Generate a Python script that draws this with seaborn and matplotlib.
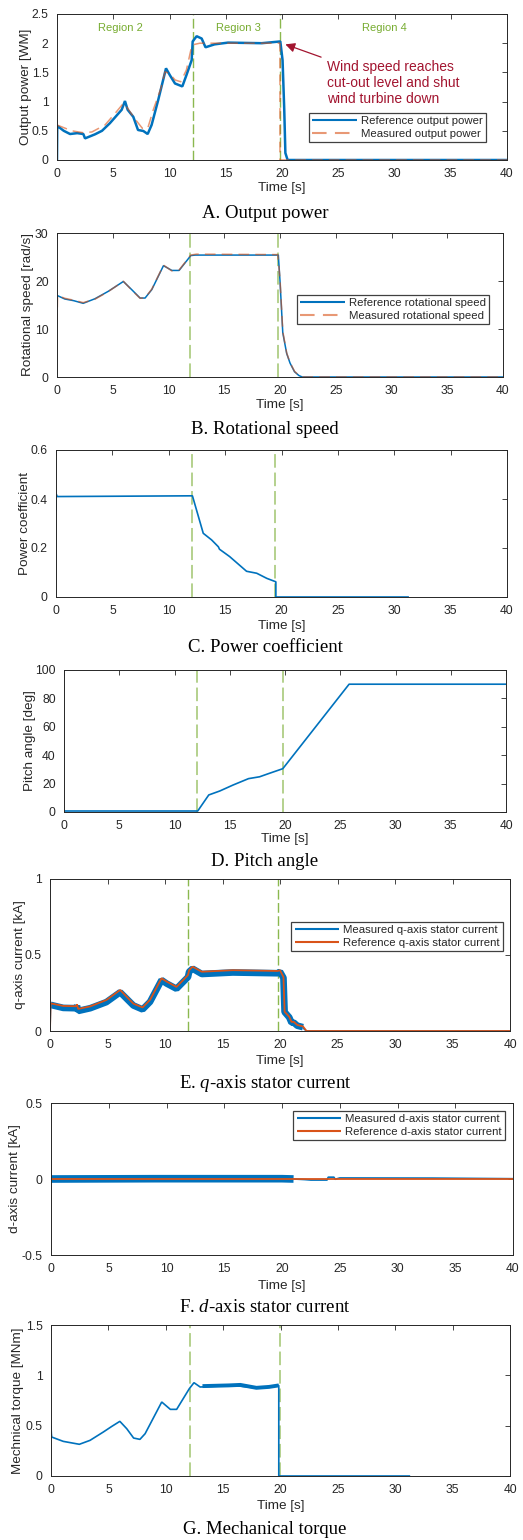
import matplotlib
matplotlib.use("Agg")
import matplotlib.pyplot as plt
from matplotlib.ticker import FuncFormatter
import seaborn as sns
import pandas as pd
import numpy as np

# ---------------- data ----------------
time_ticks = [0, 5, 10, 15, 20, 25, 30, 35, 40]

# A. Output power [MW]
power_ref_t = [0, 0.02, 0.12, 0.6, 1.16, 1.8, 2.34, 2.49, 3.38, 4.0, 4.7, 5.75, 6.04, 6.28,
               6.78, 7.2, 7.67, 8.06, 8.41, 9.0, 9.69, 10.04, 10.49, 11.14, 11.5, 11.97,
               12.06, 12.41, 12.86, 13.2, 14.0, 15.2, 18.2, 19.85, 20.05, 20.2, 20.3, 20.5, 40]
power_ref = [0.0, 0.58, 0.57, 0.5, 0.445, 0.46, 0.445, 0.37, 0.44, 0.5, 0.63, 0.86, 1.01, 0.86,
             0.74, 0.514, 0.497, 0.445, 0.6, 1.03, 1.57, 1.45, 1.31, 1.26, 1.45, 1.71,
             2.03, 2.12, 2.08, 1.93, 1.98, 2.01, 2.0, 2.03, 1.71, 0.86, 0.12, 0.0, 0.0]
power_meas_t = [0, 1.3, 2.34, 3.1, 4.27, 5.3, 5.9, 6.2, 6.9, 7.6, 8.06, 8.56, 9.24, 9.6,
                10.0, 10.5, 11.0, 11.5, 12.0, 12.7, 19.82, 19.82, 40]
power_meas = [0.6, 0.5, 0.467, 0.48, 0.6, 0.83, 0.97, 0.91, 0.71, 0.54, 0.54, 0.86, 1.23, 1.51,
              1.48, 1.37, 1.34, 1.54, 1.97, 2.0, 2.0, 0.0, 0.0]

# B. Rotational speed [rad/s]
speed_ref_t = [0, 0.7, 1.5, 2.35, 3.4, 4.6, 5.95, 6.7, 7.45, 7.9, 8.5, 9.55, 10.3, 10.95,
               12.0, 12.4, 19.85, 20.0, 20.25, 20.6, 20.9, 21.3, 21.7, 22.0, 40]
speed_ref = [17.0, 16.25, 15.9, 15.35, 16.3, 17.85, 19.9, 18.2, 16.45, 16.45, 18.2, 23.2, 22.2, 22.2,
             25.3, 25.4, 25.4, 20.0, 9.2, 4.9, 2.9, 1.1, 0.3, 0.0, 0.0]
speed_meas_t = [0, 0.05, 0.7, 1.5, 2.35, 3.4, 4.6, 5.95, 6.7, 7.45, 7.9, 8.5, 9.55, 10.3, 10.95,
                12.0, 12.5, 19.8, 20.0, 20.25, 20.6, 20.9, 21.3, 21.7, 22.0, 40]
speed_meas = [11.0, 17.0, 16.4, 16.0, 15.5, 16.2, 17.8, 19.95, 18.1, 16.4, 16.5, 18.3, 23.3, 22.1, 22.3,
              25.4, 25.6, 25.5, 20.5, 9.5, 5.0, 3.0, 1.2, 0.3, 0.0, 0.0]

# C. Power coefficient
cp_t = [0, 0.02, 0.1, 12.1, 13.06, 13.8, 14.4, 14.5, 15.4, 16.4, 16.9, 17.8, 18.7, 19.5, 19.5, 31.3]
cp = [0.35, 0.42, 0.41, 0.413, 0.26, 0.233, 0.205, 0.195, 0.165, 0.125, 0.105, 0.097, 0.076, 0.062, 0.0, 0.0]

# D. Pitch angle [deg]
pitch_t = [0, 12.1, 13.1, 14.1, 15.3, 16.7, 17.7, 18.5, 19.8, 25.8, 40]
pitch = [0.7, 0.7, 12.0, 14.8, 19.0, 23.5, 24.8, 27.0, 30.5, 90.0, 90.0]

# E. q-axis stator current [kA]
iq_t = [0, 0.05, 1.15, 2.25, 2.35, 2.45, 3.5, 4.9, 6.1, 7.25, 8.05, 8.7, 9.7, 10.15, 11.0,
        12.0, 12.1, 12.4, 13.2, 15.9, 19.8, 20.0, 20.3, 20.4, 20.8, 21.0, 21.2, 21.5, 22.0, 22.3, 40]
iq_ref = [0.0, 0.182, 0.165, 0.163, 0.175, 0.145, 0.162, 0.204, 0.27, 0.18, 0.155, 0.205, 0.347, 0.325, 0.29,
          0.368, 0.40, 0.423, 0.39, 0.40, 0.395, 0.40, 0.355, 0.127, 0.094, 0.06, 0.06, 0.04, 0.03, 0.0, 0.0]
iq_band_t = [0.05, 1.15, 2.25, 2.35, 2.45, 3.5, 4.9, 6.1, 7.25, 8.05, 8.7, 9.7, 10.15, 11.0,
             12.0, 12.1, 12.4, 13.2, 15.9, 19.8, 20.0, 20.3, 20.4, 20.8, 21.0, 21.2, 21.5, 22.0]
iq_band = [0.172, 0.152, 0.15, 0.165, 0.132, 0.15, 0.19, 0.255, 0.168, 0.142, 0.192, 0.335, 0.312, 0.278,
           0.355, 0.39, 0.41, 0.375, 0.385, 0.38, 0.39, 0.35, 0.125, 0.09, 0.055, 0.055, 0.035, 0.025]
iq_start_t = [0, 0.05]
iq_start = [0.0, 0.172]
iq_tail_t = [22.0, 22.3, 40]
iq_tail = [0.02, 0.0, 0.0]

# F. d-axis stator current [kA]
id_band_t = [0, 9.0, 20.0, 21.0]
id_band = [0.0, 0.002, 0.002, 0.0]
id_tail_t = [21.0, 22.0, 22.5, 23.9, 24.0, 24.5, 24.6, 25.0, 33.0, 40.0]
id_tail = [0.0, -0.004, -0.007, -0.007, 0.012, 0.012, -0.002, 0.007, 0.006, 0.002]
id_ref_t = [0, 40]
id_ref = [0.0, 0.0]

# G. Mechanical torque [MNm]
torque_t = [0, 0.03, 0.06, 1.07, 2.47, 3.4, 4.56, 5.3, 6.0, 6.6, 7.2, 7.75, 8.2, 9.65, 10.4,
            10.95, 12.05, 12.46, 13.0, 15.9, 17.9, 19.85, 19.85, 31.3]
torque = [0.5, 0.42, 0.387, 0.344, 0.315, 0.354, 0.437, 0.493, 0.543, 0.47, 0.377, 0.364, 0.42, 0.735, 0.662,
          0.662, 0.867, 0.927, 0.884, 0.9, 0.874, 0.9, 0.0, 0.0]
torque_noisy_t = [13.2, 15.5, 16.5, 17.9, 19.0, 19.85]
torque_noisy = [0.893, 0.9, 0.905, 0.876, 0.885, 0.9]

region_names = ["Region 2", "Region 3", "Region 4"]
region_x = [5.6, 16.1, 29.1]

# ---------------- style ----------------
sns.set_style("white")
plt.rcParams["font.family"] = ["Liberation Sans", "DejaVu Sans"]
plt.rcParams["mathtext.fontset"] = "custom"
plt.rcParams["mathtext.rm"] = "Liberation Serif"
plt.rcParams["mathtext.it"] = "Liberation Serif:italic"

BLUE = "#0072BD"
ORANGE = "#D95319"
GREEN = "#77AC30"
DARK = "#262626"

W, H = 523, 1540
fig = plt.figure(figsize=(W / 100, H / 100), dpi=100)


def make_axes(left, right, top, bottom):
    return fig.add_axes([left / W, 1 - bottom / H, (right - left) / W, (bottom - top) / H])


def style_axes(ax, box, ylim, yticks, ylabel, ylab_px, xlab_px):
    left, right, top, bottom = box
    ax.set_xlim(0, 40)
    ax.set_ylim(*ylim)
    ax.set_xticks(time_ticks)
    ax.set_yticks(yticks)
    fmt = FuncFormatter(lambda v, p: "%g" % v)
    ax.xaxis.set_major_formatter(fmt)
    ax.yaxis.set_major_formatter(fmt)
    ax.tick_params(direction="in", top=True, right=True, length=3.5, width=0.6,
                   color=DARK, labelcolor=DARK, labelsize=8.7, pad=6)
    for s in ax.spines.values():
        s.set_visible(True)
        s.set_color(DARK)
        s.set_linewidth(0.7)
    ax.set_xlabel("Time [s]", fontsize=9.7, color=DARK)
    ax.set_ylabel(ylabel, fontsize=9.7, color=DARK)
    ax.yaxis.set_label_coords((ylab_px + 6 - left) / (right - left), 0.5)
    ax.xaxis.set_label_coords(0.5, -(xlab_px - 7) / (bottom - top))


def vlines(ax, xs, lw=1.0, alpha=0.85):
    for x in xs:
        ax.axvline(x, color=GREEN, lw=lw, alpha=alpha, ls=(0, (7, 2.5)), zorder=1)


def line(ax, t, v, **kw):
    kw.setdefault("solid_capstyle", "butt")
    kw.setdefault("solid_joinstyle", "bevel")
    sns.lineplot(x=t, y=v, ax=ax, estimator=None, sort=False, **kw)


def legend(ax, anchor):
    leg = ax.legend(loc="upper right", bbox_to_anchor=anchor, fontsize=8.2, fancybox=False,
                    framealpha=1, edgecolor="#404040", borderpad=0.3, labelspacing=0.2,
                    handlelength=3.9, handletextpad=0.35, borderaxespad=0)
    leg.get_frame().set_linewidth(0.9)
    for h in leg.legend_handles:
        h.set_linewidth(1.5)
    for txt in leg.get_texts():
        txt.set_color(DARK)


def caption(y_px, text):
    fig.text(265 / W, 1 - y_px / H, text, ha="center", va="center",
             fontsize=13.5, family="Liberation Serif", color="black")


# ---- A ----
box = (57, 507, 14, 160)
ax = make_axes(*box)
vlines(ax, [12.05, 19.85])
line(ax, power_ref_t, power_ref, color=BLUE, linewidth=1.8, label="Reference output power")
line(ax, power_meas_t, power_meas, color=ORANGE, alpha=0.6, linewidth=1.1,
     linestyle=(0, (7, 4)), label="Measured output power")
for name, x in zip(region_names, region_x):
    ax.text(x, 2.26, name, color=GREEN, fontsize=8, ha="center", va="center")
ax.annotate("Wind speed reaches\ncut-out level and shut\nwind turbine down",
            xy=(20.3, 1.98), xytext=(24.0, 1.32), color="#A2142F", fontsize=10,
            ha="left", va="center", linespacing=1.15,
            arrowprops=dict(arrowstyle="-|>", color="#A2142F", lw=0.9, mutation_scale=14,
                            shrinkA=2, shrinkB=0))
style_axes(ax, box, (0, 2.5), [0, 0.5, 1, 1.5, 2, 2.5], "Output power [WM]", 26.5, 29)
legend(ax, ((486 - 57) / 450, (160 - 113) / 146))
caption(213, "A. Output power")

# ---- B ----
box = (57, 503, 233, 377)
ax = make_axes(*box)
vlines(ax, [11.96, 19.8], lw=1.4, alpha=0.55)
line(ax, speed_ref_t, speed_ref, color=BLUE, linewidth=1.1, label="Reference rotational speed")
line(ax, speed_meas_t, speed_meas, color=ORANGE, alpha=0.6, linewidth=1.1,
     linestyle=(0, (7, 4)), label="Measured rotational speed")
style_axes(ax, box, (0, 30), [0, 10, 20, 30], "Rotational speed [rad/s]", 28, 29)
legend(ax, ((489 - 57) / 446, (377 - 295) / 144))
caption(429, "B. Rotational speed")

# ---- C ----
box = (56, 507, 450, 597)
ax = make_axes(*box)
vlines(ax, [12.1, 19.45], lw=1.4, alpha=0.55)
line(ax, cp_t, cp, color=BLUE, linewidth=1.2)
style_axes(ax, box, (0, 0.6), [0, 0.2, 0.4, 0.6], "Power coefficient", 24.7, 30)
caption(648, "C. Power coefficient")

# ---- D ----
box = (64, 506, 670, 812)
ax = make_axes(*box)
vlines(ax, [12.0, 19.8], lw=1.4, alpha=0.55)
line(ax, pitch_t, pitch, color=BLUE, linewidth=1.2)
style_axes(ax, box, (0, 100), [0, 20, 40, 60, 80, 100], "Pitch angle [deg]", 30, 28)
caption(862, "D. Pitch angle")

# ---- E ----
box = (50, 510, 879, 1031)
ax = make_axes(*box)
vlines(ax, [12.0, 19.85])
line(ax, iq_band_t, iq_band, color=BLUE, linewidth=4.8, label="Measured q-axis stator current")
line(ax, iq_start_t, iq_start, color=BLUE, linewidth=1.2)
line(ax, iq_tail_t, iq_tail, color=BLUE, linewidth=1.2)
line(ax, iq_t, iq_ref, color=ORANGE, linewidth=1.3, label="Reference q-axis stator current")
style_axes(ax, box, (0, 1), [0, 0.5, 1], "q-axis current [kA]", 20.5, 31)
legend(ax, ((503 - 50) / 460, (1031 - 922) / 152))
caption(1084, r"E. $\mathit{q}$-axis stator current")

# ---- F ----
box = (51, 513, 1103, 1255)
ax = make_axes(*box)
line(ax, id_band_t, id_band, color=BLUE, linewidth=5.5, label="Measured d-axis stator current")
line(ax, id_tail_t, id_tail, color=BLUE, linewidth=1.2)
line(ax, id_ref_t, id_ref, color=ORANGE, linewidth=1.3, label="Reference d-axis stator current")
style_axes(ax, box, (-0.5, 0.5), [-0.5, 0, 0.5], "d-axis current [kA]", 15, 32)
legend(ax, ((505 - 51) / 462, (1255 - 1111) / 152))
caption(1308, r"F. $\mathit{d}$-axis stator current")

# ---- G ----
box = (51, 510, 1325, 1476)
ax = make_axes(*box)
vlines(ax, [12.1, 19.95], lw=1.4, alpha=0.55)
line(ax, torque_t, torque, color=BLUE, linewidth=1.2)
line(ax, torque_noisy_t, torque_noisy, color=BLUE, linewidth=2.8)
style_axes(ax, box, (0, 1.5), [0, 0.5, 1, 1.5], "Mechnical torque [MNm]", 18.5, 31)
caption(1530, "G. Mechanical torque")

fig.savefig("out.png", dpi=100)
